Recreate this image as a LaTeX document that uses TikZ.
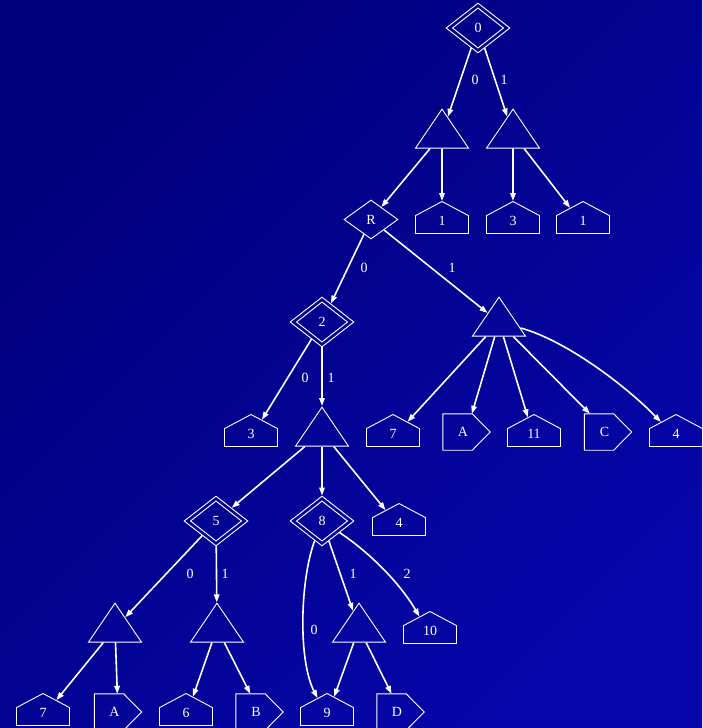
\documentclass[tikz,border=0pt]{standalone}
\usepackage{fontspec}
\setmainfont{Liberation Serif}
\usetikzlibrary{shapes.geometric,shapes.arrows,arrows.meta}
\definecolor{bgA}{RGB}{0,0,124}
\definecolor{bgB}{RGB}{6,6,170}
\newcommand\figfont{\fontsize{14}{16}\selectfont}
\begin{document}
\begin{tikzpicture}[x=1pt,y=-1pt,
  shp/.style={draw=white, line width=0.9pt, text=white, inner sep=0pt, font=\figfont},
  dd/.style={shp, diamond, minimum width=64pt, minimum height=50pt},
  dm/.style={shp, diamond, minimum width=54pt, minimum height=39pt},
  tri/.style={shp, isosceles triangle, isosceles triangle stretches, shape border rotate=90,
              minimum width=53pt, minimum height=39pt, anchor=apex},
  house/.style={shp, single arrow, single arrow head extend=0pt, single arrow tip angle=124,
              shape border rotate=90, minimum height=32pt, minimum width=53pt, anchor=tip,
              text depth=7pt},
  penta/.style={text=white, inner sep=0pt, font=\figfont, minimum width=47pt, minimum height=36pt},
  pentline/.style={draw=white, line width=0.9pt},
  conn/.style={draw=white, line width=1.6pt, -{Triangle[length=8pt,width=5.5pt]}},
  lbl/.style={text=white, font=\figfont, inner sep=0pt},
  innerd/.style={draw=white, line width=0.9pt}
]
\shade[top color=bgA, bottom color=bgB, shading angle=45] (0,0) rectangle (702,728);
\useasboundingbox (0,0) rectangle (702,728);

% nodes
\node[dd] (d0) at (478,28) {0};
\node[tri] (t1) at (442,108) {};
\node[tri] (t2) at (513,108) {};
\node[house] (h1) at (442,201) {1};
\node[house] (h2) at (513,201) {3};
\node[house] (h3) at (583,201) {1};
\node[dm] (r) at (371,219.5) {R};
\node[dd] (d2) at (322,322) {2};
\node[tri] (t3) at (499,296) {};
\node[house] (h4) at (251,414) {3};
\node[tri] (t4) at (322,406) {};
\node[house] (h5) at (393,414) {7};
\node[penta] (p1) at (466.5,432) {A\kern7pt};
\node[house] (h6) at (534,414) {11};
\node[penta] (p2) at (608,432) {C\kern7pt};
\node[house] (h7) at (676,414) {4};
\node[dd] (d5) at (216,521) {5};
\node[dd] (d8) at (322,521) {8};
\node[house] (h8) at (399,503) {4};
\node[tri] (t5) at (115,602) {};
\node[tri] (t6) at (217,602) {};
\node[tri] (t7) at (359,602) {};
\node[house] (h9) at (430,611) {10};
\node[house] (h10) at (43,693) {7};
\node[penta] (p3) at (118,712) {A\kern7pt};
\node[house] (h11) at (186,693) {6};
\node[penta] (p4) at (259.5,712) {B\kern7pt};
\node[house] (h12) at (327,693) {9};
\node[penta] (p5) at (400.5,712) {D\kern7pt};

% inner outlines of double diamonds
\foreach \n in {d0,d2,d5,d8}
  \draw[innerd] ([xshift=7pt]\n.west) -- ([yshift=-5.5pt]\n.north)
     -- ([xshift=-7pt]\n.east) -- ([yshift=5.5pt]\n.south) -- cycle;

% outlines of right-pointing pentagons
\foreach \n in {p1,p2,p3,p4,p5}
  \draw[pentline] (\n.south west) -- (\n.north west) -- ([xshift=-18pt]\n.north east)
     -- (\n.east) -- ([xshift=-18pt]\n.south east) -- cycle;

% connectors
\draw[conn] (d0) -- (t1);
\draw[conn] (d0) -- (t2);
\draw[conn] (t1) -- (r);
\draw[conn] (t1) -- (h1);
\draw[conn] (t2) -- (h2);
\draw[conn] (t2) -- (h3);
\draw[conn] (r) -- (d2);
\draw[conn] (r) -- (t3);
\draw[conn] (d2) -- (h4);
\draw[conn] (d2) -- (t4);
\draw[conn] (t3) -- (h5);
\draw[conn] (t3) -- (p1);
\draw[conn] (t3) -- (h6);
\draw[conn] (t3) -- (p2);
\draw[conn] (t3) .. controls (565,340) and (625,385) .. (h7);
\draw[conn] (t4) -- (d5);
\draw[conn] (t4) -- (d8);
\draw[conn] (t4) -- (h8);
\draw[conn] (d5) -- (t5);
\draw[conn] (d5) -- (t6);
\draw[conn] (d8) .. controls (300,580) and (298,660) .. (h12);
\draw[conn] (d8) -- (t7);
\draw[conn] (d8) .. controls (366,550) and (398,580) .. (h9);
\draw[conn] (t5) -- (h10);
\draw[conn] (t5) -- (p3);
\draw[conn] (t6) -- (h11);
\draw[conn] (t6) -- (p4);
\draw[conn] (t7) -- (h12);
\draw[conn] (t7) -- (p5);

% edge labels
\node[lbl] (l1) at (475,80) {0};
\node[lbl] (l2) at (504,80) {1};
\node[lbl] (l3) at (364,268) {0};
\node[lbl] (l4) at (452,268) {1};
\node[lbl] (l5) at (305,378) {0};
\node[lbl] (l6) at (331,378) {1};
\node[lbl] (l7) at (190,574) {0};
\node[lbl] (l8) at (225,574) {1};
\node[lbl] (l9) at (314,630) {0};
\node[lbl] (l10) at (353,574) {1};
\node[lbl] (l11) at (407,574) {2};
\end{tikzpicture}
\end{document}
